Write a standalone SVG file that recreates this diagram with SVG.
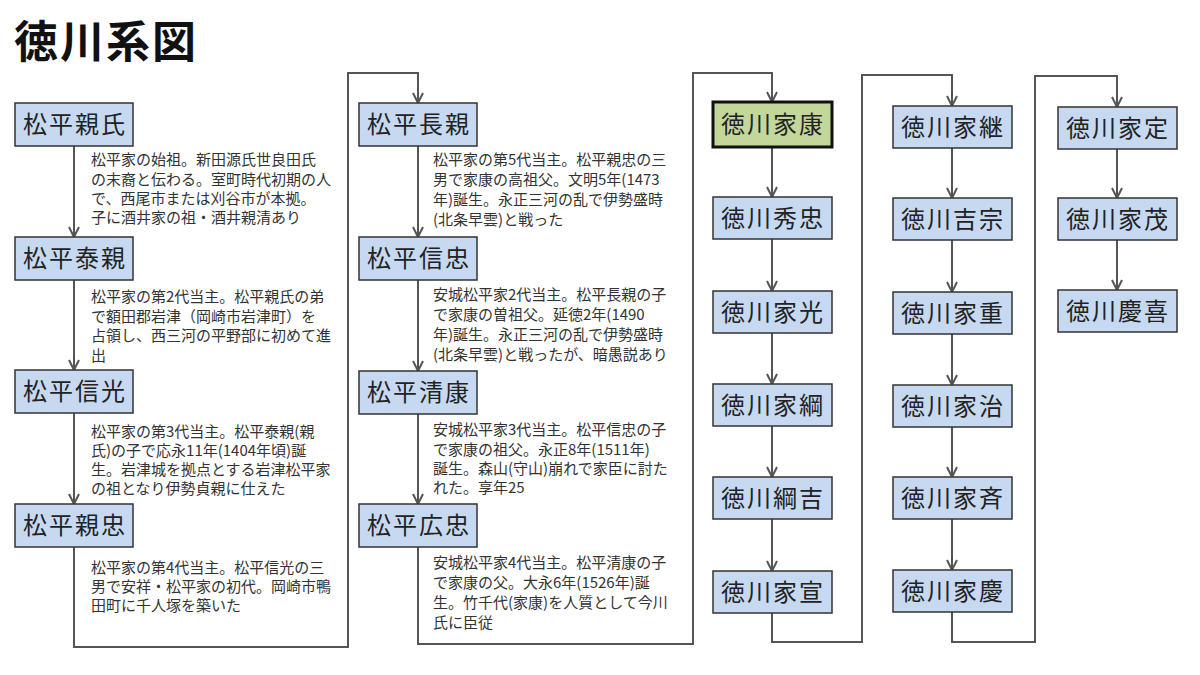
<svg xmlns="http://www.w3.org/2000/svg" width="1200" height="675" viewBox="0 0 1200 675">
<defs>
<marker id="arr" viewBox="0 0 12 12" refX="11" refY="6" markerWidth="12" markerHeight="12" markerUnits="userSpaceOnUse" orient="auto">
<path d="M1,1 L11,6 L1,11" fill="none" stroke="#555" stroke-width="2"/>
</marker>
</defs>
<style>
.title{font-family:"Noto Sans CJK JP",sans-serif;font-size:44px;font-weight:bold;fill:#111;letter-spacing:2px}
.box{fill:#c6d9f1;stroke:#333;stroke-width:1.5}
.boxk{fill:#c4d79b;stroke:#111;stroke-width:3}
.nm{font-family:"Noto Sans CJK JP",sans-serif;font-size:24px;fill:#222;text-anchor:middle;letter-spacing:2px}
.ds{font-family:"Noto Sans CJK JP",sans-serif;font-size:15px;fill:#333}
.ar{fill:none;stroke:#555;stroke-width:2;marker-end:url(#arr)}
</style>
<rect width="1200" height="675" fill="#fff"/>
<text class="title" x="14" y="58">徳川系図</text>

<g id="connectors">
<path class="ar" d="M74,146 V237"/>
<path class="ar" d="M74,280 V370"/>
<path class="ar" d="M74,413 V504"/>
<path class="ar" d="M74,547 V647 H348 V73 H418 V103"/>
<path class="ar" d="M418,146 V237"/>
<path class="ar" d="M418,280 V371"/>
<path class="ar" d="M418,414 V504"/>
<path class="ar" d="M418,547 V644 H693 V73 H772 V102"/>
<path class="ar" d="M772,147 V197"/>
<path class="ar" d="M772,239 V291"/>
<path class="ar" d="M772,333 V384"/>
<path class="ar" d="M772,426 V477"/>
<path class="ar" d="M772,519 V571"/>
<path class="ar" d="M772,613 V642 H862 V75 H952 V106"/>
<path class="ar" d="M952,148 V198"/>
<path class="ar" d="M952,240 V292"/>
<path class="ar" d="M952,334 V385"/>
<path class="ar" d="M952,427 V477"/>
<path class="ar" d="M952,519 V570"/>
<path class="ar" d="M952,612 V642 H1035 V76 H1117 V107"/>
<path class="ar" d="M1117,149 V198"/>
<path class="ar" d="M1117,240 V290"/>
</g>

<g id="n-chikauji"><rect class="box" x="15" y="103" width="118" height="43"/><text class="nm" x="75" y="133">松平親氏</text></g>
<g id="d-chikauji" class="ds"><text x="91" y="165">松平家の始祖。新田源氏世良田氏</text><text x="91" y="185">の末裔と伝わる。室町時代初期の人</text><text x="91" y="204">で、西尾市または刈谷市が本拠。</text><text x="91" y="223">子に酒井家の祖・酒井親清あり</text></g>

<g id="n-yasuchika"><rect class="box" x="15" y="237" width="118" height="43"/><text class="nm" x="75" y="267">松平泰親</text></g>
<g id="d-yasuchika" class="ds"><text x="91" y="302">松平家の第2代当主。松平親氏の弟</text><text x="91" y="322">で額田郡岩津（岡崎市岩津町）を</text><text x="91" y="341">占領し、西三河の平野部に初めて進</text><text x="91" y="361">出</text></g>

<g id="n-nobumitsu"><rect class="box" x="15" y="370" width="118" height="43"/><text class="nm" x="75" y="400">松平信光</text></g>
<g id="d-nobumitsu" class="ds"><text x="91" y="437">松平家の第3代当主。松平泰親(親</text><text x="91" y="456">氏)の子で応永11年(1404年頃)誕</text><text x="91" y="475">生。岩津城を拠点とする岩津松平家</text><text x="91" y="494">の祖となり伊勢貞親に仕えた</text></g>

<g id="n-chikatada"><rect class="box" x="15" y="504" width="118" height="43"/><text class="nm" x="75" y="534">松平親忠</text></g>
<g id="d-chikatada" class="ds"><text x="91" y="573">松平家の第4代当主。松平信光の三</text><text x="91" y="592">男で安祥・松平家の初代。岡崎市鴨</text><text x="91" y="611">田町に千人塚を築いた</text></g>

<g id="n-nagachika"><rect class="box" x="359" y="103" width="118" height="43"/><text class="nm" x="419" y="133">松平長親</text></g>
<g id="d-nagachika" class="ds"><text x="433" y="165">松平家の第5代当主。松平親忠の三</text><text x="433" y="185">男で家康の高祖父。文明5年(1473</text><text x="433" y="205">年)誕生。永正三河の乱で伊勢盛時</text><text x="433" y="225">(北条早雲)と戦った</text></g>

<g id="n-nobutada"><rect class="box" x="359" y="237" width="118" height="43"/><text class="nm" x="419" y="267">松平信忠</text></g>
<g id="d-nobutada" class="ds"><text x="433" y="300">安城松平家2代当主。松平長親の子</text><text x="433" y="320">で家康の曽祖父。延徳2年(1490</text><text x="433" y="340">年)誕生。永正三河の乱で伊勢盛時</text><text x="433" y="360">(北条早雲)と戦ったが、暗愚説あり</text></g>

<g id="n-kiyoyasu"><rect class="box" x="359" y="371" width="118" height="43"/><text class="nm" x="419" y="401">松平清康</text></g>
<g id="d-kiyoyasu" class="ds"><text x="433" y="435">安城松平家3代当主。松平信忠の子</text><text x="433" y="455">で家康の祖父。永正8年(1511年)</text><text x="433" y="474">誕生。森山(守山)崩れで家臣に討た</text><text x="433" y="493">れた。享年25</text></g>

<g id="n-hirotada"><rect class="box" x="359" y="504" width="118" height="43"/><text class="nm" x="419" y="534">松平広忠</text></g>
<g id="d-hirotada" class="ds"><text x="433" y="568">安城松平家4代当主。松平清康の子</text><text x="433" y="588">で家康の父。大永6年(1526年)誕</text><text x="433" y="608">生。竹千代(家康)を人質として今川</text><text x="433" y="628">氏に臣従</text></g>

<g id="n-ieyasu"><rect class="boxk" x="713" y="102" width="119" height="45"/><text class="nm" x="773" y="133">徳川家康</text></g>
<g id="n-hidetada"><rect class="box" x="713" y="197" width="119" height="42"/><text class="nm" x="773" y="227">徳川秀忠</text></g>
<g id="n-iemitsu"><rect class="box" x="713" y="291" width="119" height="42"/><text class="nm" x="773" y="321">徳川家光</text></g>
<g id="n-ietsuna"><rect class="box" x="713" y="384" width="119" height="42"/><text class="nm" x="773" y="414">徳川家綱</text></g>
<g id="n-tsunayoshi"><rect class="box" x="713" y="477" width="119" height="42"/><text class="nm" x="773" y="507">徳川綱吉</text></g>
<g id="n-ienobu"><rect class="box" x="713" y="571" width="119" height="42"/><text class="nm" x="773" y="601">徳川家宣</text></g>

<g id="n-ietsugu"><rect class="box" x="893" y="106" width="119" height="42"/><text class="nm" x="953" y="136">徳川家継</text></g>
<g id="n-yoshimune"><rect class="box" x="893" y="198" width="119" height="42"/><text class="nm" x="953" y="228">徳川吉宗</text></g>
<g id="n-ieshige"><rect class="box" x="893" y="292" width="119" height="42"/><text class="nm" x="953" y="322">徳川家重</text></g>
<g id="n-ieharu"><rect class="box" x="893" y="385" width="119" height="42"/><text class="nm" x="953" y="415">徳川家治</text></g>
<g id="n-ienari"><rect class="box" x="893" y="477" width="119" height="42"/><text class="nm" x="953" y="507">徳川家斉</text></g>
<g id="n-ieyoshi"><rect class="box" x="893" y="570" width="119" height="42"/><text class="nm" x="953" y="600">徳川家慶</text></g>

<g id="n-iesada"><rect class="box" x="1058" y="107" width="119" height="42"/><text class="nm" x="1118" y="137">徳川家定</text></g>
<g id="n-iemochi"><rect class="box" x="1058" y="198" width="119" height="42"/><text class="nm" x="1118" y="228">徳川家茂</text></g>
<g id="n-yoshinobu"><rect class="box" x="1058" y="290" width="119" height="42"/><text class="nm" x="1118" y="320">徳川慶喜</text></g>
</svg>
